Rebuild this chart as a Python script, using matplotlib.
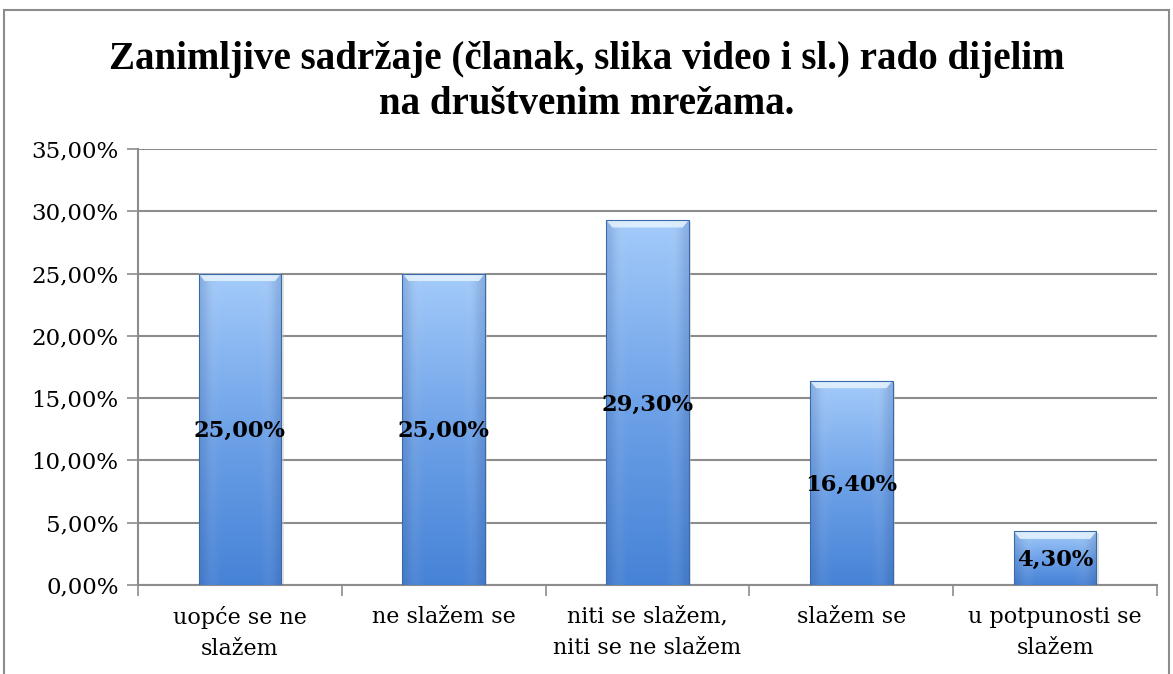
import numpy as np
import matplotlib.pyplot as plt
from matplotlib.patches import Rectangle, Polygon
from matplotlib.colors import LinearSegmentedColormap

# -------------------
# DATA
# -------------------
categories = ["uopće se ne\nslažem", "ne slažem se", "niti se slažem,\nniti se ne slažem",
              "slažem se", "u potpunosti se\nslažem"]
values = [25.0, 25.0, 29.3, 16.4, 4.3]
labels = ["25,00%", "25,00%", "29,30%", "16,40%", "4,30%"]
yticks = [0, 5, 10, 15, 20, 25, 30, 35]
ytick_labels = ["0,00%", "5,00%", "10,00%", "15,00%", "20,00%", "25,00%", "30,00%", "35,00%"]

title = "Zanimljive sadržaje (članak, slika video i sl.) rado dijelim\nna društvenim mrežama."

# -------------------
# FIGURE
# -------------------
fig = plt.figure(figsize=(11.73, 6.74), dpi=100)
fig.patches.append(Rectangle((4 / 1173, -0.05), 1165 / 1173, 1.05 - 10 / 674,
                             transform=fig.transFigure, fill=False,
                             edgecolor="#8c8c8c", linewidth=1.5))

ax = fig.add_axes([138 / 1173, 1 - 585 / 674, 1019 / 1173, 436 / 674])

x = np.arange(len(values))
width = 0.405

# gradient bars
grad = np.linspace(0, 1, 256).reshape(-1, 1)
cmap = LinearSegmentedColormap.from_list("bar", ["#4682d6", "#6ea2e8", "#a4cbfa"])
side = np.array([[0.0, 1.0, 1.0, 1.0, 1.0, 1.0, 0.0]])
side_cmap = LinearSegmentedColormap.from_list("side", [(0.2, 0.35, 0.6, 0.25), (1, 1, 1, 0)])

for xi, v in zip(x, values):
    # shadow
    ax.add_patch(Rectangle((xi - width / 2 + 0.012, -0.15), width, v, facecolor="#c8c8c8",
                           edgecolor="none", alpha=0.5, zorder=2))
    bar = Rectangle((xi - width / 2, 0), width, v, facecolor="none",
                    edgecolor="#3a6aa8", linewidth=0.8, zorder=4)
    ax.add_patch(bar)
    im = ax.imshow(grad, extent=(xi - width / 2, xi + width / 2, 0, v), origin="lower",
                   cmap=cmap, aspect="auto", zorder=3)
    im.set_clip_path(bar)
    sd = ax.imshow(side, extent=(xi - width / 2, xi + width / 2, 0, v), cmap=side_cmap,
                   aspect="auto", zorder=3.2, interpolation="bicubic")
    sd.set_clip_path(bar)
    # top bevel highlight
    bev = 0.6
    dx = 0.03
    ax.add_patch(Polygon([(xi - width / 2, v), (xi + width / 2, v),
                          (xi + width / 2 - dx, v - bev), (xi - width / 2 + dx, v - bev)],
                         closed=True, facecolor="#e6f4ff", edgecolor="none",
                         alpha=0.85, zorder=3.5))

for xi, v, lab in zip(x, values, labels):
    ax.text(xi, v / 2 - 0.15, lab, ha="center", va="center", fontsize=16.3, fontweight="bold",
            family="DejaVu Serif", color="black", zorder=6)

ax.set_xlim(-0.5, len(values) - 0.5)
ax.set_ylim(0, 35)

ax.set_yticks(yticks)
ax.set_yticklabels(ytick_labels, fontsize=16.5, family="DejaVu Serif")
ax.yaxis.grid(True, color="#8c8c8c", linewidth=1.5, zorder=0)
ax.set_axisbelow(True)

ax.set_xticks(x)
ax.set_xticklabels(categories, fontsize=16, family="DejaVu Serif", linespacing=1.55)
ax.tick_params(axis="x", length=0, pad=15)
ax.set_xticks(np.arange(-0.5, len(values)), minor=True)
ax.tick_params(axis="x", which="minor", length=8, color="#8c8c8c", width=1.2)
ax.tick_params(axis="y", length=8, color="#8c8c8c", width=1.2, pad=6)

for s in ["top", "right"]:
    ax.spines[s].set_visible(False)
ax.spines["left"].set_color("#8c8c8c")
ax.spines["bottom"].set_color("#8c8c8c")
ax.spines["left"].set_linewidth(1.5)
ax.spines["bottom"].set_linewidth(1.5)

fig.text(0.5, 1 - 82 / 674, title, ha="center", va="center", fontsize=28,
         fontweight="bold", family="Liberation Serif", linespacing=1.25)

fig.savefig("out.png", dpi=100)
